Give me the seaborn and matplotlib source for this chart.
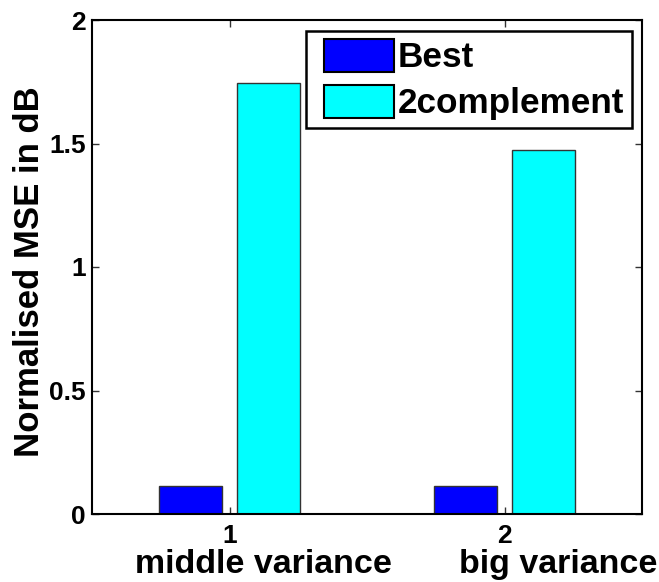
import matplotlib
matplotlib.use("Agg")
import matplotlib.pyplot as plt
import matplotlib.transforms as mtransforms
from matplotlib.patches import Patch, Rectangle
from matplotlib.legend_handler import HandlerPatch
import numpy as np
import pandas as pd
import seaborn as sns

# Data
scenarios = ["middle variance", "big variance"]
tick_labels = ["1", "2"]
methods = ["Best", "2complement"]
best_mse = [0.112, 0.115]
twocomp_mse = [1.746, 1.474]
method_colors = ["#0000ff", "#00ffff"]

df = pd.DataFrame({
    "scenario": scenarios * 2,
    "method": [methods[0]] * len(scenarios) + [methods[1]] * len(scenarios),
    "mse": best_mse + twocomp_mse,
})

sns.set_style("white")
plt.rcParams["font.family"] = ["Liberation Sans", "DejaVu Sans"]
plt.rcParams["font.weight"] = "bold"
for key in ("text.color", "axes.labelcolor", "xtick.color", "ytick.color"):
    plt.rcParams[key] = "black"

fig = plt.figure(figsize=(6.59, 5.82), dpi=100)
ax = fig.add_axes([92 / 659, 1 - 514 / 582, 550 / 659, 494 / 582])

sns.barplot(
    data=df, x="scenario", y="mse", hue="method", order=scenarios,
    hue_order=methods, palette=method_colors, saturation=1,
    width=0.572, gap=0.2, edgecolor="#333333", linewidth=1.0, ax=ax,
)

ax.set_xlim(-0.5, 1.5)
ax.set_ylim(0, 2)
ax.set_yticks([0, 0.5, 1, 1.5, 2])
ax.set_yticklabels(["0", "0.5", "1", "1.5", "2"])
ax.set_xticks(range(len(scenarios)))
ax.set_xticklabels(tick_labels)
ax.set_xlabel("")
ax.set_ylabel("Normalised MSE in dB", fontsize=25, fontweight="bold",
              color="black", labelpad=2.5)
ax.yaxis.label.set_y(0.49)

for s in ax.spines.values():
    s.set_visible(True)
    s.set_color("black")
    s.set_linewidth(1.5)

ax.tick_params(axis="both", which="major", direction="in", length=5, width=1,
               color="#333333", labelcolor="black", labelsize=19, top=True,
               right=True, bottom=True, left=True)
ax.tick_params(axis="x", pad=7)
ax.tick_params(axis="y", pad=4.5)
for lbl in ax.get_xticklabels() + ax.get_yticklabels():
    lbl.set_fontweight("bold")

# Scenario names under the tick numbers
trans = mtransforms.blended_transform_factory(ax.transData, ax.transAxes)
name_x = [-0.344, 0.833]
for xpos, name in zip(name_x, scenarios):
    ax.text(xpos, -0.119, name, transform=trans, ha="left", va="baseline",
            fontsize=24.5, fontweight="bold", color="black", clip_on=False)


# Legend swatches sit at the right end of a slightly wider handle box,
# leaving a wider margin between the frame and the swatch.
def right_swatch(legend, orig_handle, xdescent, ydescent, width, height, fontsize):
    w = 1.98 * fontsize
    return Rectangle((-xdescent + (width - w), -ydescent), w, height)


handles = [Patch(facecolor=c, edgecolor="black", linewidth=1.5) for c in method_colors]
leg = ax.legend(
    handles, methods,
    handler_map={Patch: HandlerPatch(patch_func=right_swatch)},
    loc="upper right", bbox_to_anchor=(0.982, 0.978), borderaxespad=0,
    fontsize=25.3, frameon=True, fancybox=False, shadow=False, framealpha=1,
    handlelength=2.28, handleheight=1.07, handletextpad=0.12,
    labelspacing=0.31, borderpad=0.22,
)
leg.get_frame().set_edgecolor("black")
leg.get_frame().set_linewidth(1.8)
for t in leg.get_texts():
    t.set_fontweight("bold")
    t.set_color("black")

fig.savefig("out.png", dpi=100, facecolor="white")
